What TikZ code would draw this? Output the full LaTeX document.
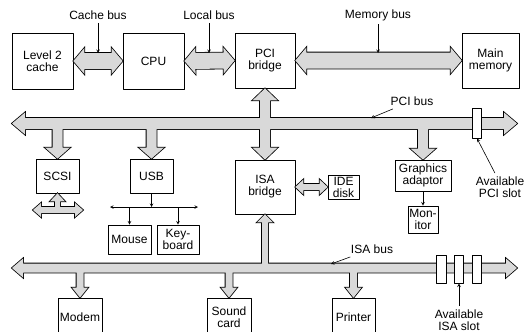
\documentclass[tikz,border=0pt]{standalone}
\usepackage{fontspec}
\setmainfont{Liberation Sans}
\usetikzlibrary{calc}
\begin{document}
\begin{tikzpicture}[x=1pt, y=-1pt, font=\fontsize{12}{12}\selectfont, line join=round, >=stealth]
			\useasboundingbox(0,0)rectangle(525,332);
			% fat bus arrows: from, to, half shaft, half head, head length
			\def\two#1#2#3#4#5{\path[bus] let \p1=(#1),\p2=(#2),\n1={atan2(\y2-\y1,\x2-\x1)},\n2={veclen(\x2-\x1,\y2-\y1)} in [shift={(\p1)},rotate=\n1](0,0)--(#5,#4)--(#5,#3)--(\n2-#5,#3)--(\n2-#5,#4)--(\n2,0)--(\n2-#5,-#4)--(\n2-#5,-#3)--(#5,-#3)--(#5,-#4)--cycle;}
			\def\one#1#2#3#4#5{\path[bus] let \p1=(#1),\p2=(#2),\n1={atan2(\y2-\y1,\x2-\x1)},\n2={veclen(\x2-\x1,\y2-\y1)} in [shift={(\p1)},rotate=\n1](0,-#3)--(\n2-#5,-#3)--(\n2-#5,-#4)--(\n2,0)--(\n2-#5,#4)--(\n2-#5,#3)--(0,#3)--cycle;}
			\tikzset{s/.style 2 args={draw,line width=.8pt,align=center,inner sep=0pt,minimum width=#1,minimum height=#2},
				slot/.style={draw,fill=white,line width=.8pt,inner sep=0pt,minimum width=9.5,minimum height=28}}
			\path(42.5,61)node[s={61}{56}](cache){Level 2\\cache}(153.5,61)node[s={61}{56}](cpu){CPU}
				(265,60.5)node[s={60}{55}](pcib){PCI\\bridge}(490.5,60.5)node[s={57}{55}](mem){Main\\memory};
			\path(57.5,176)node[s={43}{34}](scsi){SCSI}(151.5,176)node[s={43}{34}](usb){USB}
				(265,187)node[s={60}{54}](isab){ISA\\bridge}(343.5,187)node[s={31}{24}](ide){IDE\\disk}
				(423,175.5)node[s={56}{31}](gfx){Graphics\\adaptor}(423,219.5)node[s={30}{27}](mon){Mon-\\itor};
			\path(129.5,239.5)node[s={43}{29}](mouse){Mouse}(178,239.5)node[s={42}{29}](kbd){Key-\\board};
			\path(80,317.5)node[s={44}{39}](modem){Modem}(229,317.5)node[s={44}{39}](sound){Sound\\card}
				(353.5,317.5)node[s={43}{39}](printer){Printer};
			\path(12,123.5)coordinate(pciL)(517,123.5)coordinate(pciR)(12,268)coordinate(isaL)(517,268)coordinate(isaR)
				(33,210)coordinate(scsiL)(83,210)coordinate(scsiR);
			\def\buses{
				\two{cache.east}{cpu.west}{8}{13}{11}
				\two{cpu.east}{pcib.west}{8}{13}{11}
				\two{pcib.east}{mem.west}{8}{13}{11}
				\two{pciL}{pciR}{5.5}{11}{13}
				\two{pcib.south}{isab.north}{5}{12.5}{12}
				\one{scsi.north|-pciL}{scsi.north}{5}{12.5}{11}
				\one{usb.north|-pciL}{usb.north}{5}{12.5}{11}
				\one{gfx.north|-pciL}{gfx.north}{5}{12.5}{11}
				\two{isab.east}{ide.west}{3}{7.5}{8}
				\two{scsiL}{scsiR}{3}{7}{8}
				\one{scsi.south|-scsiL}{scsi.south}{2.5}{7.5}{8}
				\two{isaL}{isaR}{4.5}{9.5}{11}
				\one{isab.south|-isaL}{isab.south}{3}{8}{8}
				\one{modem.north|-isaL}{modem.north}{3.5}{8}{10}
				\one{sound.north|-isaL}{sound.north}{3.5}{8}{10}
				\one{printer.north|-isaL}{printer.north}{3.5}{8}{10}}
			\tikzset{bus/.style={draw,fill=gray!30,line width=1.6pt,line join=miter}}\buses
			\tikzset{bus/.style={fill=gray!30}}\buses
			\path(477,123)node[slot,minimum height=30](pcislot){};
			\foreach \x[count=\i] in {441.5,459,477}\path(\x,269)node[slot](isa\i){};
			\path(98,15)node(cachebus){Cache bus}(209,15)node(localbus){Local bus}(378,15)node(membus){Memory bus}
				(412,101)node(pcibus){PCI bus}(372,249)node(isabus){ISA bus}
				(500,187)node[align=center](pcitext){Available\\PCI slot}(459,320)node[align=center](isatext){Available\\ISA slot};
			\path(98,53)coordinate(cb)(209,53)coordinate(lb)(378,53)coordinate(mb)(371,118)coordinate(pb)(331,264)coordinate(ib)
				(110,207)coordinate(usbL)(198,207)coordinate(usbR)(151.5,207)coordinate(hub);
			\foreach \x/\y in {
				usb/hub,mouse.north|-hub/mouse,kbd.north|-hub/kbd,gfx/mon,
				cachebus/cb,localbus/lb,membus/mb,pcibus/pb,isabus/ib,
				pcitext.110/pcislot.south,isatext.north/isa2.south}
			\draw[-stealth,line width=.6pt](\x)--(\y);
			\draw[stealth-stealth,line width=.6pt](usbL)--(usbR);
		\end{tikzpicture}
\end{document}
